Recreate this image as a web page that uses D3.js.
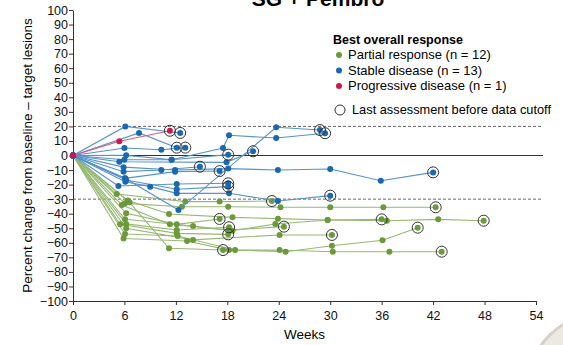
<!DOCTYPE html>
<html>
<head>
<meta charset="utf-8">
<script src="https://cdn.jsdelivr.net/npm/d3@7/dist/d3.min.js"></script>
<style>
  body { margin: 0; background: #fff; }
  svg { font-family: "Liberation Sans", Arial, sans-serif; }
</style>
</head>
<body>
<div id="chart"></div>
<script>
// [week, % change] per patient
var partialResponse = [
  [[0,0],[5.1,-26.5],[13.1,-31.7],[17.1,-31.7],[23.2,-31.3]],
  [[0,0],[6.07,-32.9],[12.7,-35.2],[18.1,-35.2],[24.2,-35.6],[30,-35.6],[36.2,-35.6],[42.3,-35.6]],
  [[0,0],[6.4,-31],[11.2,-40.2],[18.6,-42.5],[23.9,-43.4],[29.7,-44.3],[36.6,-44.8],[42.6,-43.9],[47.9,-44.8]],
  [[0,0],[5.7,-34],[11.3,-47.3],[18.6,-51.7],[23.6,-47.1],[29.7,-44.3],[36,-43.9]],
  [[0,0],[6.2,-39.7],[12.1,-47.3],[17.1,-43.6]],
  [[0,0],[6.07,-43.8],[14,-48.5],[18.2,-51.2],[24.6,-48.9]],
  [[0,0],[6.2,-47],[12.1,-51.2],[18.2,-49.3]],
  [[0,0],[5.5,-47.3],[12.1,-53.5],[18.1,-54.2]],
  [[0,0],[6.07,-54],[12.2,-55.3],[18.9,-65],[24.8,-66.1],[30.2,-62],[36.1,-58.3],[40.2,-49.6]],
  [[0,0],[6.2,-50],[14,-58],[24.1,-54.6],[30.2,-54.6]],
  [[0,0],[5.9,-57],[13.3,-58.8],[18.2,-65],[24.1,-65],[30.3,-66.1],[36.9,-66.1],[43,-66.1]],
  [[0,0],[6.6,-32.2],[11.2,-63.8],[17.5,-65]]
];

var stableDisease = [
  [[0,0],[6.1,20],[12.5,15.5]],
  [[0,0],[7.7,15.5],[12.1,5.4]],
  [[0,0],[6,5.2],[10.3,4],[13.1,5.4]],
  [[0,0],[5.9,-11.1],[10.3,-10],[14.8,-7.7]],
  [[0,0],[6.07,-15.7],[11.9,-11.1],[17.1,-10.7]],
  [[0,0],[6.2,0.1],[11.5,-2.9],[18.1,0.6]],
  [[0,0],[5.4,-4.3],[17.9,-4.7],[21,2.9]],
  [[0,0],[5.3,-21],[12.1,-19.6],[18.1,-19.1]],
  [[0,0],[6.2,-16.8],[12.1,-23.2],[18.1,-21.4]],
  [[0,0],[6.07,-15.7],[12.3,-37.5],[23.7,19.4],[28.8,17.5]],
  [[0,0],[6,-2.9],[11.5,-2.9],[17.5,5.2],[18.2,13.9],[23.7,12],[29.4,15.3]],
  [[0,0],[5.9,-8],[11.9,-10],[18.1,-9],[23.9,-10],[30,-9.3],[35.9,-17.3],[42,-11.6]],
  [[0,0],[6.1,-18],[9,-21.4],[12.1,-26],[18.2,-26],[23.9,-31.3],[30,-27.6]]
];

var progressiveDisease = [
  [[0,0],[5.4,9.8],[11.3,17]]
];

var xTicks = [0, 6, 12, 18, 24, 30, 36, 42, 48, 54];
var yTicks = d3.range(-100, 101, 10);
var refLines = [20, -30];

var legendLabels = ["Partial response (n = 12)", "Stable disease (n = 13)", "Progressive disease (n = 1)"];
var legendColors = ["#6b9a3a", "#1a68b0", "#d1164a"];
var lineColors = ["#97b873", "#5592cc", "#e2587a"];

var width = 563, height = 345;

var svg = d3.select("#chart").append("svg")
  .attr("width", width)
  .attr("height", height);

// watermark in the corner
svg.append("circle")
  .attr("cx", 606).attr("cy", 392).attr("r", 80)
  .style("fill", "#ece9e0")
  .style("stroke", "#d6d2c6")
  .style("stroke-width", 3);

var x = d3.scaleLinear().domain([0, 54]).range([73, 536]);
var y = d3.scaleLinear().domain([-100, 100]).range([301, 10]);

// title (cut off at the top, as in the source)
svg.append("text")
  .attr("x", 318)
  .attr("y", 6)
  .style("text-anchor", "middle")
  .style("font-weight", "bold")
  .style("font-size", "21px")
  .text("SG + Pembro");

// reference lines
svg.selectAll(".refLine")
  .data(refLines)
  .enter().append("line")
  .attr("class", "refLine")
  .attr("x1", x(0)).attr("x2", x(54) + 7)
  .attr("y1", function (d) { return y(d); })
  .attr("y2", function (d) { return y(d); })
  .style("stroke", "#555")
  .style("stroke-width", 0.9)
  .style("stroke-dasharray", "3,2");

svg.append("line")
  .attr("x1", x(0)).attr("x2", x(54) + 7)
  .attr("y1", y(0)).attr("y2", y(0))
  .style("stroke", "#333")
  .style("stroke-width", 1);

// axes
var xAxis = svg.append("g")
  .attr("transform", "translate(0," + y(-100) + ")")
  .call(d3.axisBottom(x).tickValues(xTicks).tickSize(4).tickSizeOuter(0));

var yAxis = svg.append("g")
  .attr("transform", "translate(" + x(0) + ",0)")
  .call(d3.axisLeft(y).tickValues(yTicks).tickSize(4).tickSizeOuter(0));

[xAxis, yAxis].forEach(function (a) {
  a.selectAll("path, line").style("stroke", "#333");
  a.selectAll("text").style("font-size", "12.5px").style("fill", "#111")
    .style("font-family", "'Liberation Sans', Arial, sans-serif");
});
xAxis.selectAll("text").attr("dy", "0.95em");
yAxis.selectAll("text").attr("x", -5);

svg.append("text")
  .attr("x", (x(0) + x(54)) / 2)
  .attr("y", 339)
  .style("text-anchor", "middle")
  .style("font-size", "13.5px")
  .text("Weeks");

svg.append("text")
  .attr("transform", "rotate(-90)")
  .attr("x", -y(0))
  .attr("y", 32)
  .style("text-anchor", "middle")
  .style("font-size", "13.5px")
  .text("Percent change from baseline \u2013 target lesions");

var line = d3.line()
  .x(function (d) { return x(d[0]); })
  .y(function (d) { return y(d[1]); });

function drawGroup(series, i, cls) {
  var g = svg.append("g").attr("class", cls);
  g.selectAll("path")
    .data(series)
    .enter().append("path")
    .attr("d", line)
    .style("fill", "none")
    .style("stroke", lineColors[i])
    .style("stroke-width", 1.1);

  series.forEach(function (s) {
    g.selectAll(null)
      .data(s)
      .enter().append("circle")
      .attr("cx", function (d) { return x(d[0]); })
      .attr("cy", function (d) { return y(d[1]); })
      .attr("r", 3)
      .style("fill", legendColors[i]);
  });

  // last assessment markers
  g.selectAll(".lastDot")
    .data(series.map(function (s) { return s[s.length - 1]; }))
    .enter().append("circle")
    .attr("class", "lastDot")
    .attr("cx", function (d) { return x(d[0]); })
    .attr("cy", function (d) { return y(d[1]); })
    .attr("r", 5.5)
    .style("fill", "none")
    .style("stroke", "#333")
    .style("stroke-width", 1);
}

drawGroup(partialResponse, 0, "pr");
drawGroup(stableDisease, 1, "sd");
drawGroup(progressiveDisease, 2, "pd");

// legend
var legend = svg.append("g").attr("transform", "translate(333,0)");

legend.append("text")
  .attr("x", 0).attr("y", 44)
  .style("font-weight", "bold")
  .style("font-size", "12.5px")
  .text("Best overall response");

var legendGroups = legend.selectAll(".legend")
  .data(legendLabels)
  .enter().append("g")
  .attr("class", "legend")
  .attr("transform", function (d, i) { return "translate(0," + (55 + i * 15.5) + ")"; });

legendGroups.append("circle")
  .attr("cx", 6).attr("cy", 0).attr("r", 3)
  .style("fill", function (d, i) { return legendColors[i]; });

legendGroups.append("text")
  .attr("x", 15).attr("y", 4.4)
  .style("font-size", "13px")
  .text(function (d) { return d; });

legend.append("circle")
  .attr("cx", 7).attr("cy", 110).attr("r", 5)
  .style("fill", "none")
  .style("stroke", "#333");

legend.append("text")
  .attr("x", 19).attr("y", 114.4)
  .style("font-size", "12.8px")
  .text("Last assessment before data cutoff");
</script>
</body>
</html>
